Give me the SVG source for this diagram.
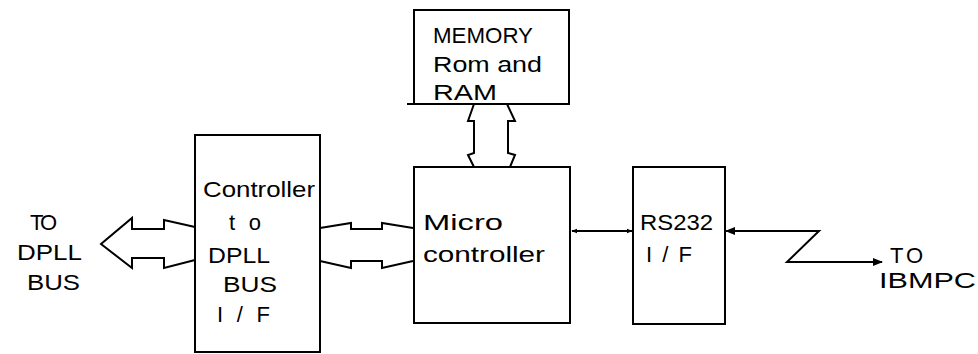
<svg xmlns="http://www.w3.org/2000/svg" width="978" height="354" viewBox="0 0 978 354">
<style>
.box{fill:#fff;stroke:#000;stroke-width:2}
.ln{fill:none;stroke:#000;stroke-width:2;stroke-linejoin:miter}
text{font-family:"Liberation Sans","DejaVu Sans",sans-serif;font-size:22px;fill:#000}
</style>
<defs>
<marker id="ah" viewBox="0 0 10 10" refX="9" refY="5" markerWidth="6" markerHeight="6" orient="auto-start-reverse" markerUnits="userSpaceOnUse">
<path d="M0,1 L10,5 L0,9 Z" fill="#000"/>
</marker>
<marker id="ahs" viewBox="0 0 10 10" refX="9" refY="5" markerWidth="10" markerHeight="10" orient="auto-start-reverse" markerUnits="userSpaceOnUse">
<path d="M0,1 L10,5 L0,9 Z" fill="#000"/>
</marker>
</defs>
<rect width="978" height="354" fill="#fff"/>
<g id="connectors">
<polyline class="ln" points="195,227 164,220 164,229 132,229 132,218 101,244 132,268 132,258 164,258 164,268 195,260"/>
<polyline class="ln" points="320,228 351,223 351,229 382,229 382,223 413,228"/>
<polyline class="ln" points="320,261 351,268 351,261 382,261 382,268 413,261"/>
<polyline class="ln" points="474,104 468,121 474,121 474,153 468,155 474,167"/>
<polyline class="ln" points="507,104 515,121 508,121 508,153 515,155 510,167"/>
<line class="ln" x1="572" y1="231" x2="632" y2="231" marker-start="url(#ah)" marker-end="url(#ah)"/>
<polyline class="ln" points="726,231 819,231 787,262 882,262" marker-start="url(#ahs)" marker-end="url(#ahs)"/>
</g>
<g id="dpll-label">
<text x="30" y="230" textLength="27" lengthAdjust="spacing">TO</text>
<text x="17" y="260" textLength="65" lengthAdjust="spacingAndGlyphs">DPLL</text>
<text x="27" y="290" textLength="53" lengthAdjust="spacingAndGlyphs">BUS</text>
</g>
<g id="controller-if">
<rect class="box" x="195" y="135" width="125" height="217"/>
<text x="203" y="197" textLength="112" lengthAdjust="spacingAndGlyphs">Controller</text>
<text x="229" y="230" textLength="32" lengthAdjust="spacing">to</text>
<text x="208" y="263" textLength="62" lengthAdjust="spacingAndGlyphs">DPLL</text>
<text x="223" y="292" textLength="54" lengthAdjust="spacingAndGlyphs">BUS</text>
<text x="217" y="322" textLength="53" lengthAdjust="spacing">I/F</text>
</g>
<g id="memory">
<rect class="box" x="414" y="10" width="155" height="94"/>
<line class="ln" x1="407" y1="104" x2="414" y2="104"/>
<text x="433" y="43" textLength="100" lengthAdjust="spacingAndGlyphs">MEMORY</text>
<text x="433" y="72" textLength="109" lengthAdjust="spacingAndGlyphs">Rom and</text>
<text x="433" y="100" textLength="64" lengthAdjust="spacingAndGlyphs">RAM</text>
</g>
<g id="microcontroller">
<rect class="box" x="414" y="167" width="156" height="156"/>
<text x="423" y="230" textLength="80" lengthAdjust="spacingAndGlyphs">Micro</text>
<text x="423" y="262" textLength="122" lengthAdjust="spacingAndGlyphs">controller</text>
</g>
<g id="rs232">
<rect class="box" x="633" y="167" width="92" height="157"/>
<text x="640" y="230" textLength="73" lengthAdjust="spacingAndGlyphs">RS232</text>
<text x="646" y="262" textLength="46" lengthAdjust="spacing">I/F</text>
</g>
<g id="ibmpc-label">
<text x="890" y="263" textLength="33" lengthAdjust="spacing">TO</text>
<text x="879" y="288" textLength="97" lengthAdjust="spacingAndGlyphs">IBMPC</text>
</g>
</svg>
